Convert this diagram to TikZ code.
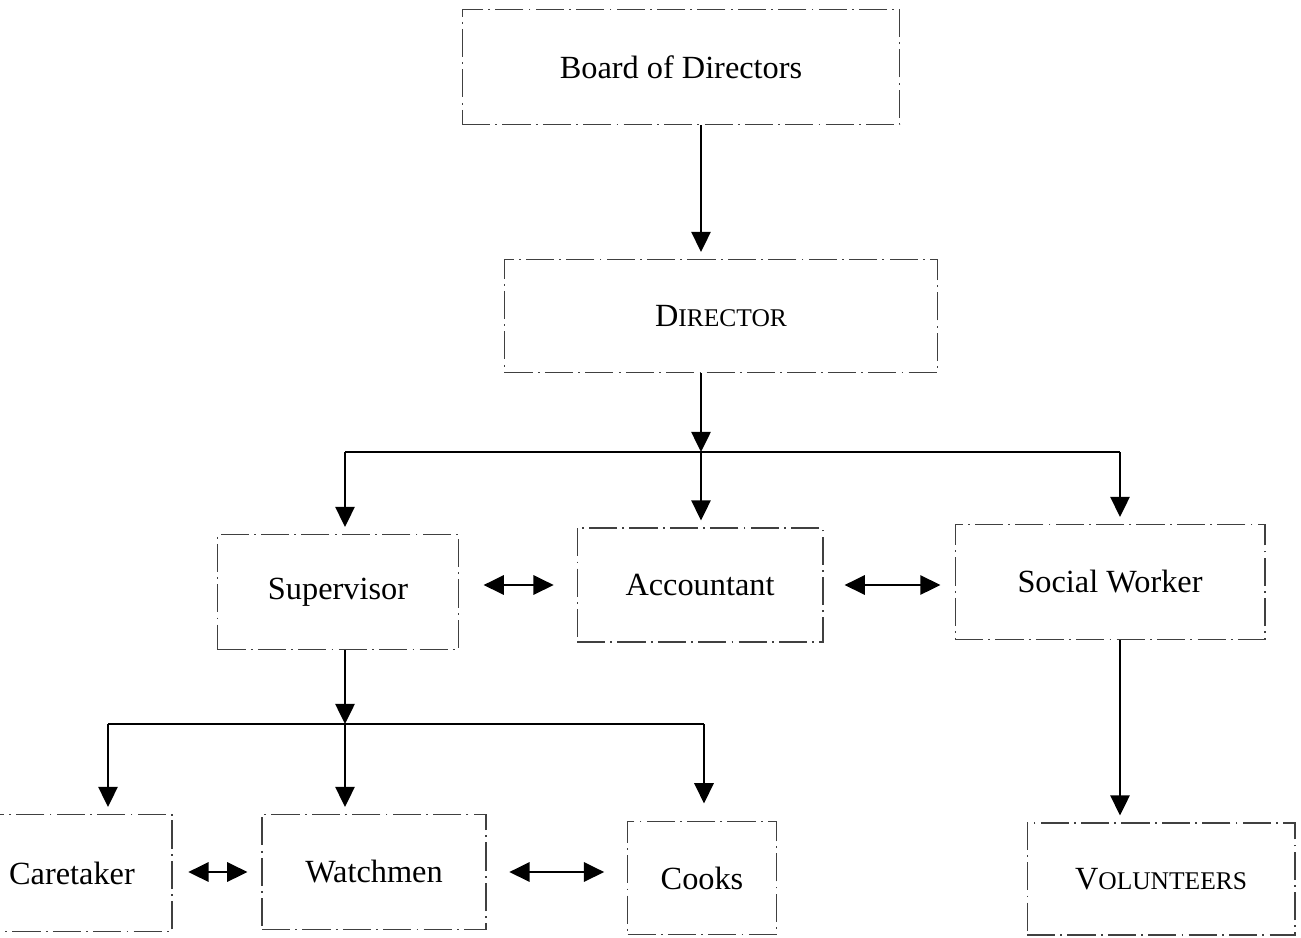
\documentclass[tikz,border=0pt]{standalone}
\usepackage{fontspec}
\setmainfont{Liberation Serif}
\usetikzlibrary{arrows.meta}
\newcommand{\fakesc}[2]{#1{\fontsize{14.5}{17}\selectfont #2}}

\begin{document}
\begin{tikzpicture}[x=0.02cm,y=-0.02cm,>={Triangle[length=11.5pt,width=11pt]},
  box/.style={draw=black!75,line width=0.6pt,dash pattern=on 16pt off 3pt on 1pt off 3pt,
    inner sep=0pt,font=\fontsize{18.4}{22}\selectfont},
  link/.style={line width=1.2pt},
  drop/.style={link,->,shorten >=4pt},
  both/.style={link,<->}]
\useasboundingbox (0,0) rectangle (1301,937);
\node[box,minimum width=8.76cm,minimum height=2.3cm] (board) at (681,67) {Board of Directors};
\node[box,minimum width=8.66cm,minimum height=2.26cm] (director) at (721,316) {\fakesc{D}{IRECTOR}};
\node[box,minimum width=4.82cm,minimum height=2.3cm] (sup) at (338,592) {Supervisor};
\node[box,minimum width=4.92cm,minimum height=2.28cm] (acc) at (700,585) {Accountant};
\node[box,minimum width=6.2cm,minimum height=2.3cm] (sw) at (1110,582) {Social Worker};
\node[box,minimum width=4.0cm,minimum height=2.34cm] (care) at (72,873) {Caretaker};
\node[box,minimum width=4.48cm,minimum height=2.3cm] (wat) at (374,872) {Watchmen};
\node[box,minimum width=2.98cm,minimum height=2.26cm] (cooks) at (702,878) {Cooks};
\node[box,minimum width=5.36cm,minimum height=2.24cm] (vol) at (1161,879) {\fakesc{V}{OLUNTEERS}};
\coordinate (jt) at (701,452);
\coordinate (ts) at (345,452);
\coordinate (tw) at (1120,452);
\coordinate (js) at (345,724);
\coordinate (bl) at (108,724);
\coordinate (br) at (704,724);
\draw[drop] (board.south -| jt) -- (director.north -| jt);
\draw[link,->] (director.south -| jt) -- (jt);
\draw[link] (ts) -- (tw);
\draw[drop] (ts) -- (sup.north -| ts);
\draw[drop] (jt) -- (acc.north -| jt);
\draw[drop] (tw) -- (sw.north -| tw);
\draw[drop] (sw.south -| tw) -- (vol.north -| tw);
\draw[link,->] (sup.south -| js) -- (js);
\draw[link] (bl) -- (br);
\draw[drop] (bl) -- (care.north -| bl);
\draw[drop] (js) -- (wat.north -| js);
\draw[drop,shorten >=10pt] (br) -- (cooks.north -| br);
\draw[both,shorten <=14pt,shorten >=13pt] (acc.west -| sup.east) -- (acc.west);
\draw[both,shorten <=12pt,shorten >=8pt] (acc.east) -- (acc.east -| sw.west);
\draw[both,shorten <=9pt,shorten >=8pt] (wat.west -| care.east) -- (wat.west);
\draw[both,shorten <=13pt,shorten >=13pt] (wat.east) -- (wat.east -| cooks.west);
\end{tikzpicture}
\end{document}
